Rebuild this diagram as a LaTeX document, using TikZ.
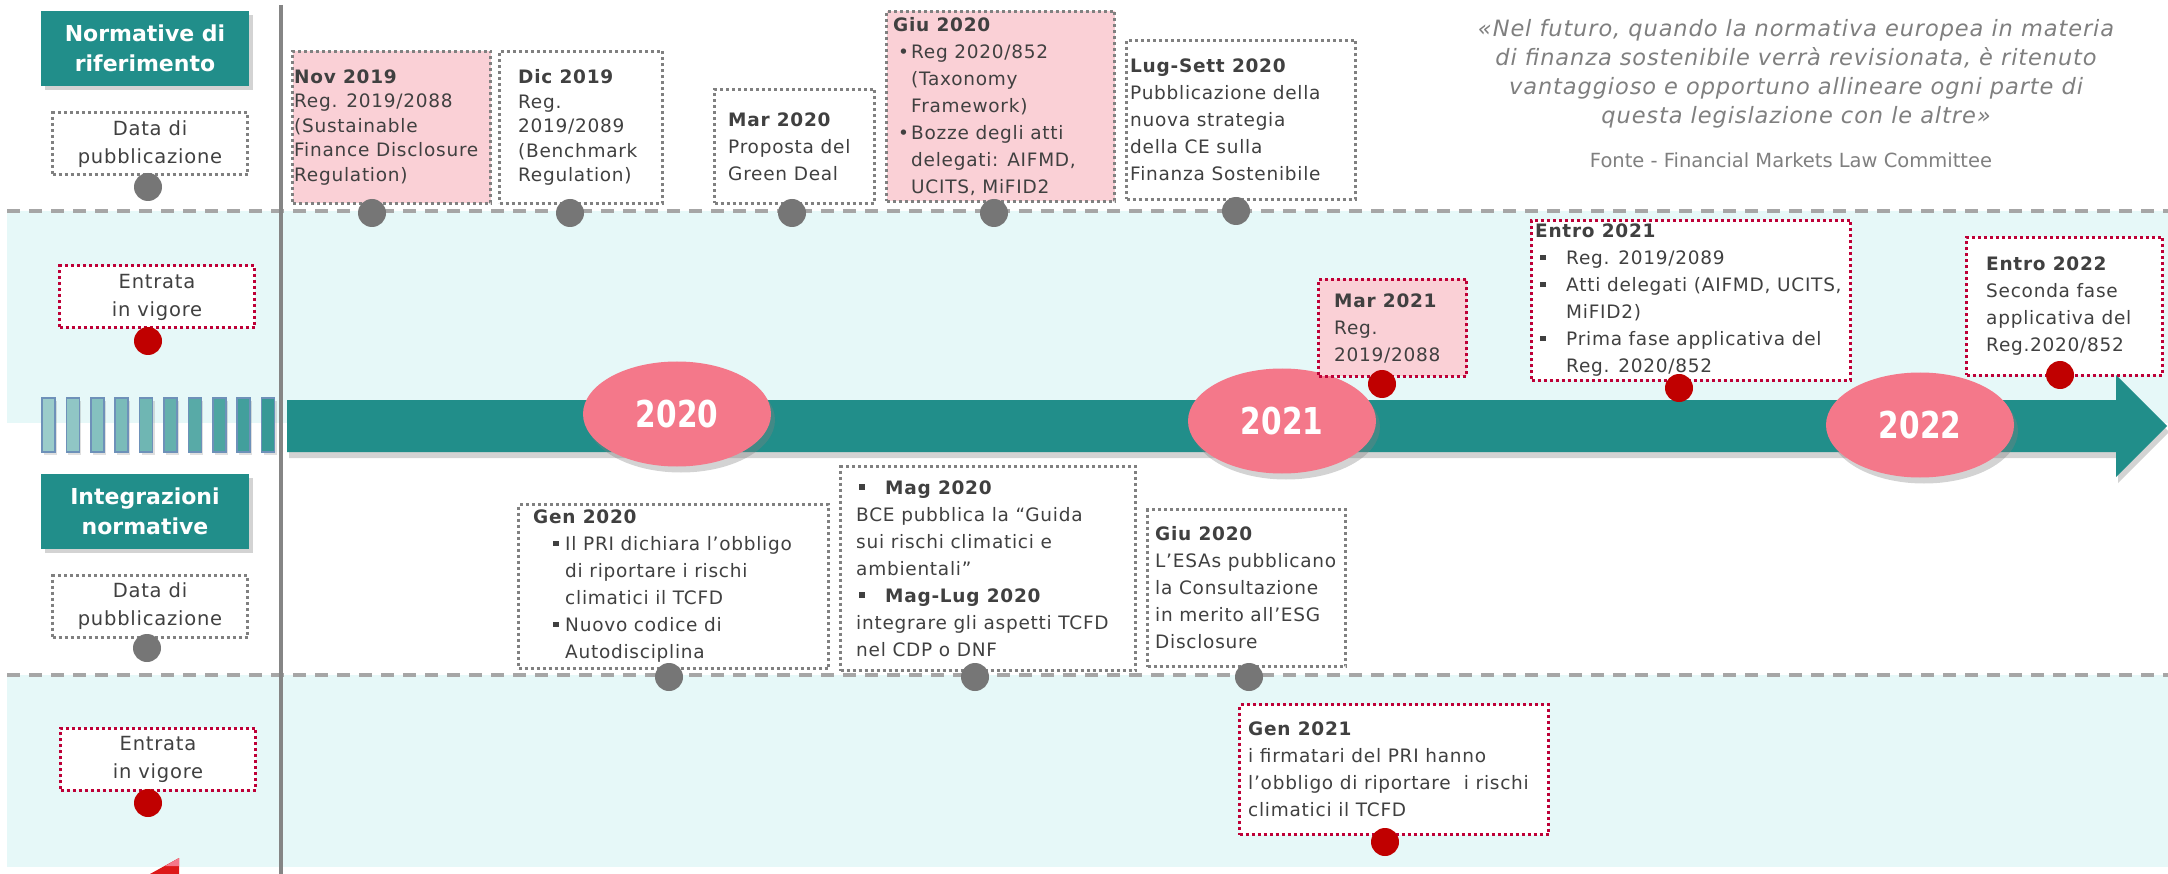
\documentclass[tikz,border=0pt]{standalone}
\usepackage{fontspec}
\usetikzlibrary{shapes.geometric,shadows}

\newfontfamily\boxfont[LetterSpace=4]{DejaVu Sans}
\newfontfamily\headfont{DejaVu Sans}
\newfontfamily\yearfont[FakeStretch=0.8]{DejaVu Sans}

\definecolor{axisteal}{RGB}{33,142,138}
\definecolor{yearpink}{RGB}{244,120,138}
\definecolor{pinkfill}{RGB}{250,208,214}
\definecolor{bandcyan}{RGB}{230,248,248}
\definecolor{dashgray}{RGB}{166,166,166}
\definecolor{dotgray}{RGB}{118,118,118}
\definecolor{dotred}{RGB}{192,0,0}
\definecolor{boxred}{RGB}{190,0,55}
\definecolor{boxgray}{RGB}{128,128,128}
\definecolor{txtgray}{RGB}{64,64,64}
\definecolor{quotegray}{RGB}{127,127,127}
\definecolor{rulegray}{RGB}{133,133,133}
\definecolor{barline}{RGB}{110,145,185}

\newcommand{\evfont}{\fontsize{18.5}{27}\boxfont}
\newcommand{\evfonttight}{\fontsize{18.5}{24.5}\boxfont}
% bullet at offset #1, text at offset #2
\newcommand{\sqb}[2]{\makebox[#2][l]{\hspace*{#1}\raisebox{4.5pt}{\rule{5.5pt}{5.5pt}}}}
\newcommand{\rdb}[2]{\makebox[#2][l]{\hspace*{#1}•}}
\newcommand{\bulindent}[1]{\hspace*{#1}}

\tikzset{
  dashline/.style={dashgray, line width=4pt, dash pattern=on 13pt off 9pt},
  evbox/.style={draw=boxgray, line width=3pt, dash pattern=on 3pt off 3pt,
    fill=white, inner sep=0pt, anchor=north west},
  redbox/.style={evbox, draw=boxred},
  pinkbox/.style={fill=pinkfill},
  evtext/.style={anchor=west, align=left, inner sep=0pt, text=txtgray, font=\evfont},
  gdot/.style={circle, fill=dotgray, minimum size=28pt, inner sep=0pt},
  rdot/.style={gdot, fill=dotred},
  header/.style={fill=axisteal, text=white, align=center, inner sep=0pt,
    font=\fontsize{22}{30}\headfont\bfseries,
    minimum width=208pt, minimum height=75pt,
    drop shadow={shadow xshift=4pt, shadow yshift=-4pt, opacity=0.35}},
  legendbox/.style={evbox, anchor=center, align=center, text=txtgray,
    font=\fontsize{19.5}{28}\boxfont, minimum width=195pt, minimum height=62pt},
  year/.style={ellipse, fill=yearpink, inner sep=0pt, text=white,
    minimum width=188pt, minimum height=105pt,
    font=\fontsize{37}{40}\yearfont\bfseries,
    drop shadow={shadow xshift=4pt, shadow yshift=-6pt, opacity=0.35}},
  quote/.style={align=center, text=quotegray, inner sep=0pt}
}

\begin{document}
\begin{tikzpicture}[x=1pt,y=-1pt]
  \useasboundingbox (0,0) rectangle (2168,874);

  % bands and separators
  \fill[bandcyan] (7,211) rectangle (2168,423);
  \fill[bandcyan] (7,675) rectangle (2168,867);
  \draw[dashline] (7,211) -- (2168,211);
  \draw[dashline] (7,675) -- (2168,675);
  \draw[rulegray, line width=4.5pt] (281,5) -- (281,874);

  % stripes before the axis
  \foreach \i [evaluate=\i as \p using int(45+5*\i)] in {0,...,9}
    \draw[barline, line width=1.5pt, fill=axisteal!\p!white,
      drop shadow={shadow xshift=2pt, shadow yshift=-3pt, opacity=0.25}]
      (42+24.4*\i,398) rectangle +(13,54);

  % time axis
  \fill[axisteal, drop shadow={shadow xshift=2pt, shadow yshift=-6pt, opacity=0.35}]
    (287,400) -- (2116,400) -- (2116,375) -- (2167,426)
    -- (2116,477) -- (2116,452) -- (287,452) -- cycle;

  \node[year] (y2020) at (677,414) {2020};
  \node[year] (y2021) at (1282,421) {2021};
  \node[year] (y2022) at (1920,425) {2022};

  % left legend
  \node[header] (normhead) at (145,48.5) {Normative di\\riferimento};
  \node[legendbox] (pubtop) at (150,144) {Data di\\pubblicazione};
  \node[gdot] (pubtopdot) at (148,187) {};
  \node[legendbox, draw=boxred] (vigtop) at (157,297) {Entrata\\in vigore};
  \node[rdot] (vigtopdot) at (148,341) {};
  \node[header] (integhead) at (145,511.5) {Integrazioni\\normative};
  \node[legendbox] (pubbot) at (150,606.5) {Data di\\pubblicazione};
  \node[gdot] (pubbotdot) at (147,648) {};
  \node[legendbox, draw=boxred] (vigbot) at (158,759) {Entrata\\in vigore};
  \node[rdot] (vigbotdot) at (148,803) {};

  % normative di riferimento - publication
  \node[evbox, pinkbox, minimum width=198pt, minimum height=152pt] (nov19) at (291,50) {};
  \node[evtext, font=\evfonttight] (nov19txt) at ([xshift=3pt]nov19.west)
    {\textbf{Nov 2019}\\Reg. 2019/2088\\(Sustainable\\Finance Disclosure\\Regulation)};
  \node[evbox, minimum width=163pt, minimum height=152pt] (dic19) at (498,50) {};
  \node[evtext, font=\evfonttight] (dic19txt) at ([xshift=20pt]dic19.west)
    {\textbf{Dic 2019}\\Reg.\\2019/2089\\(Benchmark\\Regulation)};
  \node[evbox, minimum width=160pt, minimum height=114pt] (mar20) at (713,88) {};
  \node[evtext] (mar20txt) at ([xshift=15pt]mar20.west)
    {\textbf{Mar 2020}\\Proposta del\\Green Deal};
  \node[evbox, pinkbox, minimum width=228pt, minimum height=190pt] (giu20) at (885,10) {};
  \node[evtext] (giu20txt) at ([xshift=8pt]giu20.west)
    {\textbf{Giu 2020}\\\rdb{5pt}{18pt}Reg 2020/852\\\bulindent{18pt}(Taxonomy\\
     \bulindent{18pt}Framework)\\\rdb{5pt}{18pt}Bozze degli atti\\
     \bulindent{18pt}delegati: AIFMD,\\\bulindent{18pt}UCITS, MiFID2};
  \node[evbox, minimum width=229pt, minimum height=159pt] (lug20) at (1125,39) {};
  \node[evtext] (lug20txt) at ([xshift=5pt]lug20.west)
    {\textbf{Lug-Sett 2020}\\Pubblicazione della\\nuova strategia\\della CE sulla\\Finanza Sostenibile};
  \node[gdot] (nov19dot) at (372,213) {};
  \node[gdot] (dic19dot) at (570,213) {};
  \node[gdot] (mar20dot) at (792,213) {};
  \node[gdot] (giu20dot) at (994,213) {};
  \node[gdot] (lug20dot) at (1236,211) {};

  % normative di riferimento - entry into force
  \node[redbox, pinkbox, minimum width=148pt, minimum height=97pt] (mar21) at (1317,278) {};
  \node[evtext] (mar21txt) at ([xshift=17pt]mar21.west)
    {\textbf{Mar 2021}\\Reg.\\2019/2088};
  \node[redbox, minimum width=319pt, minimum height=160pt] (entro21) at (1530,219) {};
  \node[evtext] (entro21txt) at ([xshift=5pt]entro21.west)
    {\textbf{Entro 2021}\\\sqb{5pt}{31pt}Reg. 2019/2089\\
     \sqb{5pt}{31pt}Atti delegati (AIFMD, UCITS,\\\bulindent{31pt}MiFID2)\\
     \sqb{5pt}{31pt}Prima fase applicativa del\\\bulindent{31pt}Reg. 2020/852};
  \node[redbox, minimum width=196pt, minimum height=138pt] (entro22) at (1965,236) {};
  \node[evtext] (entro22txt) at ([xshift=21pt]entro22.west)
    {\textbf{Entro 2022}\\Seconda fase\\applicativa del\\Reg.2020/852};
  \node[rdot] (mar21dot) at (1382,384) {};
  \node[rdot] (entro21dot) at (1679,388) {};
  \node[rdot] (entro22dot) at (2060,375) {};

  % integrazioni normative - publication
  \node[evbox, minimum width=310pt, minimum height=164pt] (gen20) at (517,503) {};
  \node[evtext] (gen20txt) at ([xshift=16pt]gen20.west)
    {\textbf{Gen 2020}\\\sqb{20pt}{32pt}Il PRI dichiara l’obbligo\\
     \bulindent{32pt}di riportare i rischi\\\bulindent{32pt}climatici il TCFD\\
     \sqb{20pt}{32pt}Nuovo codice di\\\bulindent{32pt}Autodisciplina};
  \node[evbox, minimum width=295pt, minimum height=204pt] (mag20) at (839,465) {};
  \node[evtext] (mag20txt) at ([xshift=17pt]mag20.west)
    {\sqb{3pt}{29pt}\textbf{Mag 2020}\\BCE pubblica la “Guida\\sui rischi climatici e\\ambientali”\\
     \sqb{3pt}{29pt}\textbf{Mag-Lug 2020}\\integrare gli aspetti TCFD\\nel CDP o DNF};
  \node[evbox, minimum width=198pt, minimum height=157pt] (giu20b) at (1146,508) {};
  \node[evtext] (giu20btxt) at ([xshift=9pt]giu20b.west)
    {\textbf{Giu 2020}\\L’ESAs pubblicano\\la Consultazione\\in merito all’ESG\\Disclosure};
  \node[gdot] (gen20dot) at (669,677) {};
  \node[gdot] (mag20dot) at (975,677) {};
  \node[gdot] (giu20bdot) at (1249,677) {};

  % integrazioni normative - entry into force
  \node[redbox, minimum width=309pt, minimum height=130pt] (gen21) at (1238,703) {};
  \node[evtext] (gen21txt) at ([xshift=10pt]gen21.west)
    {\textbf{Gen 2021}\\i firmatari del PRI hanno\\l’obbligo di riportare\ \ i rischi\\climatici il TCFD};
  \node[rdot] (gen21dot) at (1385,842) {};

  % quote
  \node[quote, font=\fontsize{22.5}{29}\boxfont\itshape] (quotetxt) at (1796,73.5)
    {«Nel futuro, quando la normativa europea in materia\\
     di finanza sostenibile verrà revisionata, è ritenuto\\
     vantaggioso e opportuno allineare ogni parte di\\
     questa legislazione con le altre»};
  \node[quote, font=\fontsize{19.5}{29}\headfont] (quotesrc) at (1791,160)
    {Fonte - Financial Markets Law Committee};

  % corner mark
  \fill[red!85!black!90!white] (150,874) -- (179,858) -- (179,874) -- cycle;
  \fill[yearpink] (165,866) -- (179,858) -- (179,866) -- cycle;
\end{tikzpicture}
\end{document}
